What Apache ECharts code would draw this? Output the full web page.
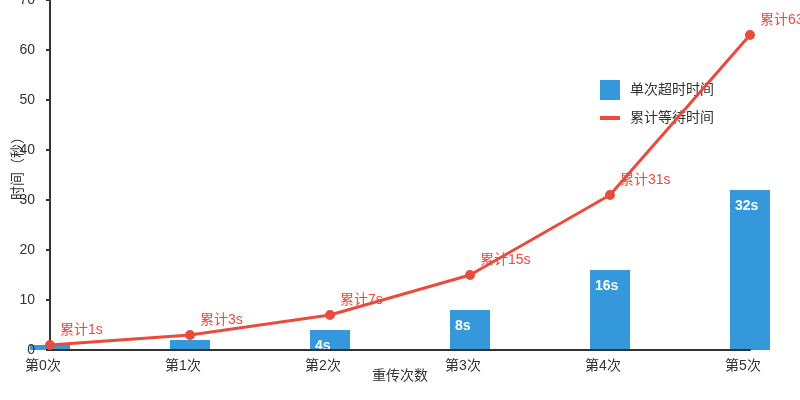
<!DOCTYPE html>
<html>
<head>
<meta charset="utf-8">
<script src="https://cdn.jsdelivr.net/npm/echarts@6/dist/echarts.min.js"></script>
<style>
  html, body { margin: 0; padding: 0; background: #fff; }
  #chart { width: 800px; height: 400px; }
</style>
</head>
<body>
<div id="chart"></div>
<script>
  // 横轴：重传次数
  var categories = ['第0次', '第1次', '第2次', '第3次', '第4次', '第5次']
  // 单次超时时间（秒）
  var timeoutValues = [1, 2, 4, 8, 16, 32]
  // 累计等待时间（秒）
  var totalValues = [1, 3, 7, 15, 31, 63]

  var fontFamily = '"Liberation Sans", "Noto Sans CJK SC", sans-serif'
  var myChart = echarts.init(document.getElementById('chart'))

  var option = {
    animation: false,
    textStyle: { fontFamily: fontFamily, fontSize: 14 },
    legend: {
      orient: 'vertical',
      left: 593,
      top: 75,
      itemWidth: 20,
      itemHeight: 20,
      itemGap: 10,
      textStyle: { color: '#333', fontSize: 14, padding: [0, 0, 0, 5] },
      data: [
        { name: '单次超时时间', icon: 'rect' },
        {
          name: '累计等待时间',
          itemStyle: { color: 'rgba(0,0,0,0)', borderWidth: 0 },
          lineStyle: { width: 4 }
        }
      ]
    },
    grid: { left: 50, right: 50, top: 0, bottom: 50, outerBoundsMode: 'none', containLabel: false },
    xAxis: {
      type: 'category',
      z: 5,
      boundaryGap: false,
      data: categories,
      name: '重传次数',
      nameLocation: 'middle',
      nameGap: 19,
      nameMoveOverlap: false,
      nameTextStyle: { color: '#333', fontSize: 14 },
      axisLine: { lineStyle: { color: '#333', width: 2 } },
      axisTick: { show: false },
      axisLabel: { color: '#333', fontSize: 14, margin: 9, padding: [0, 14, 0, 0] }
    },
    yAxis: {
      type: 'value',
      z: 5,
      min: 0,
      max: 70,
      interval: 10,
      name: '时间（秒）',
      nameLocation: 'middle',
      nameGap: 25,
      nameMoveOverlap: false,
      nameTextStyle: { color: '#333', fontSize: 14, padding: [0, 0, 0, 20] },
      axisLine: { show: true, lineStyle: { color: '#333', width: 2 } },
      axisTick: { show: true, length: 4, lineStyle: { color: '#333', width: 2 } },
      axisLabel: { color: '#333', fontSize: 14, margin: 15 },
      splitLine: { show: false }
    },
    series: [
      {
        name: '单次超时时间',
        type: 'bar',
        z: 1,
        barWidth: 40,
        data: timeoutValues,
        itemStyle: { color: '#3498db' },
        label: {
          show: true,
          position: 'insideTopLeft',
          distance: 5,
          offset: [0, 4],
          color: '#fff',
          textBorderWidth: 0,
          textBorderColor: 'transparent',
          fontWeight: 'bold',
          fontSize: 14,
          formatter: '{c}s'
        }
      },
      {
        name: '累计等待时间',
        type: 'line',
        data: totalValues,
        symbol: 'circle',
        symbolSize: 10,
        z: 6,
        lineStyle: { color: '#e74c3c', width: 3 },
        itemStyle: { color: '#e74c3c' },
        label: {
          show: true,
          position: [15, -17],
          color: '#e74c3c',
          fontSize: 14,
          formatter: '累计{c}s'
        }
      }
    ]
  }

  myChart.setOption(option)
</script>
</body>
</html>
